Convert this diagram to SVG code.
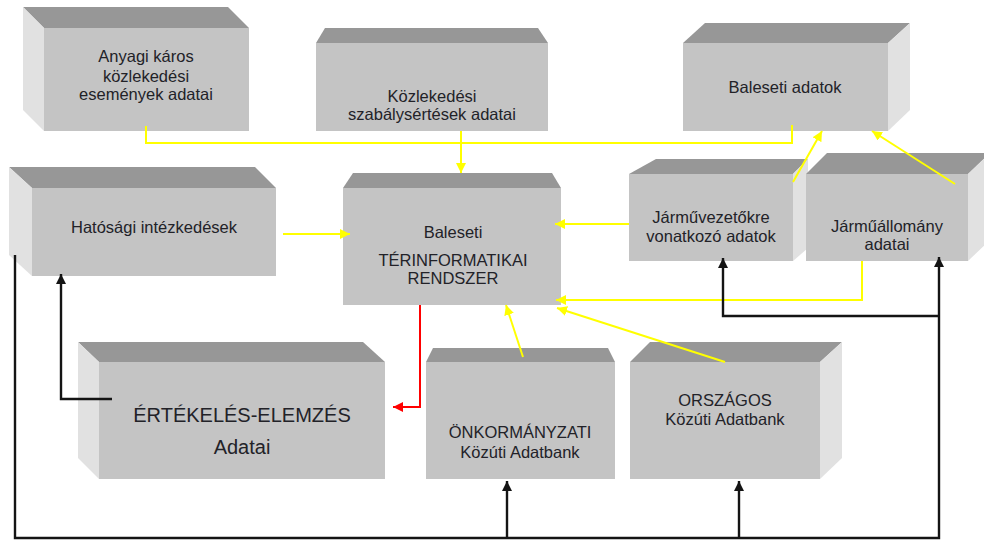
<svg xmlns="http://www.w3.org/2000/svg" width="984" height="540" viewBox="0 0 984 540">
  <style>
    .front { fill: #c4c4c4; }
    .top { fill: #979797; }
    .side { fill: #e1e1e1; }
    text { font-family: "Liberation Sans", Arial, sans-serif; font-size: 16.5px; fill: #222228; text-anchor: middle; }
    .big { font-size: 20px; }
    .y { fill: none; stroke: #ffff00; stroke-width: 2; }
    .k { fill: none; stroke: #141414; stroke-width: 2.4; }
    .r { fill: none; stroke: #ff0000; stroke-width: 2; }
  </style>
  <defs>
    <marker id="ay" viewBox="0 0 10 10" refX="10" refY="5" markerWidth="5" markerHeight="5" orient="auto">
      <path d="M0,0 L10,5 L0,10 Z" fill="#ffff00"/>
    </marker>
    <marker id="ak" viewBox="0 0 10 10" refX="10" refY="5" markerWidth="4.2" markerHeight="4.2" orient="auto">
      <path d="M0,0 L10,5 L0,10 Z" fill="#141414"/>
    </marker>
    <marker id="ar" viewBox="0 0 10 10" refX="10" refY="5" markerWidth="5" markerHeight="5" orient="auto">
      <path d="M0,0 L10,5 L0,10 Z" fill="#ff0000"/>
    </marker>
  </defs>
  <rect width="984" height="540" fill="#ffffff"/>

  <!-- Anyagi káros közlekedési események adatai -->
  <g id="anyagi">
    <polygon class="top" points="44,28 23,7 228,7 249,28"/>
    <polygon class="side" points="23,7 44,28 44,131 23,110"/>
    <rect class="front" x="44" y="28" width="205" height="103"/>
    <text x="146" y="62">Anyagi káros</text>
    <text x="146" y="82">közlekedési</text>
    <text x="146" y="100">események adatai</text>
  </g>

  <!-- Közlekedési szabálysértések adatai -->
  <g id="szabalysertes">
    <polygon class="top" points="316,43 325,28 538,28 548,43"/>
    <rect class="front" x="316" y="43" width="232" height="88"/>
    <text x="432" y="102">Közlekedési</text>
    <text x="432" y="120">szabálysértések adatai</text>
  </g>

  <!-- Baleseti adatok -->
  <g id="baleseti-adatok">
    <polygon class="top" points="683,43 705,23 910,23 888,43"/>
    <polygon class="side" points="888,43 910,23 910,110 888,131"/>
    <rect class="front" x="683" y="43" width="205" height="88"/>
    <text x="785" y="93">Baleseti adatok</text>
  </g>

  <!-- Hatósági intézkedések -->
  <g id="hatosagi">
    <polygon class="top" points="32,188 9,167 255,167 276,188"/>
    <polygon class="side" points="9,167 32,188 32,276 9,255"/>
    <rect class="front" x="32" y="188" width="244" height="88"/>
    <text x="154" y="233">Hatósági intézkedések</text>
  </g>

  <!-- Baleseti térinformatikai rendszer -->
  <g id="terinformatikai">
    <polygon class="top" points="343,188 353,173 552,173 561,188"/>
    <rect class="front" x="343" y="188" width="218" height="117"/>
    <text x="453" y="238">Baleseti</text>
    <text x="453" y="266">TÉRINFORMATIKAI</text>
    <text x="453" y="284">RENDSZER</text>
  </g>

  <!-- Járművezetőkre vonatkozó adatok -->
  <g id="jarmuvezetok">
    <polygon class="top" points="629,174 656,159 808,159 793,174"/>
    <polygon class="side" points="793,174 808,159 808,248 793,261"/>
    <rect class="front" x="629" y="174" width="164" height="87"/>
    <text x="711" y="223">Járművezetőkre</text>
    <text x="711" y="242">vonatkozó adatok</text>
  </g>

  <!-- Járműállomány adatai -->
  <g id="jarmuallomany">
    <polygon class="top" points="806,174 827,153 990,153 968,174"/>
    <polygon class="side" points="968,174 990,153 990,240 968,261"/>
    <rect class="front" x="806" y="174" width="162" height="87"/>
    <text x="887" y="232">Járműállomány</text>
    <text x="887" y="250">adatai</text>
  </g>

  <!-- Értékelés-elemzés adatai -->
  <g id="ertekeles">
    <polygon class="top" points="99,362 78,342 363,342 385,362"/>
    <polygon class="side" points="78,342 99,362 99,479 78,458"/>
    <rect class="front" x="99" y="362" width="286" height="117"/>
    <text class="big" x="242" y="422">ÉRTÉKELÉS-ELEMZÉS</text>
    <text class="big" x="242" y="454">Adatai</text>
  </g>

  <!-- Önkormányzati közúti adatbank -->
  <g id="onkormanyzati">
    <polygon class="top" points="426,362 433,348 608,348 615,362"/>
    <rect class="front" x="426" y="362" width="189" height="117"/>
    <text x="520" y="438">ÖNKORMÁNYZATI</text>
    <text x="520" y="458">Közúti Adatbank</text>
  </g>

  <!-- Országos közúti adatbank -->
  <g id="orszagos">
    <polygon class="top" points="630,362 650,342 842,342 820,362"/>
    <polygon class="side" points="820,362 842,342 842,458 820,479"/>
    <rect class="front" x="630" y="362" width="190" height="117"/>
    <text x="725" y="406">ORSZÁGOS</text>
    <text x="725" y="425">Közúti Adatbank</text>
  </g>

  <!-- connectors -->
  <g id="connectors">
    <path class="y" d="M146,126 V143 H792 V125"/>
    <path class="y" d="M461,131 V173" marker-end="url(#ay)"/>
    <path class="y" d="M283,234 H350" marker-end="url(#ay)"/>
    <path class="y" d="M629,224 H555" marker-end="url(#ay)"/>
    <path class="y" d="M862,261 V300 H556" marker-end="url(#ay)"/>
    <path class="y" d="M725,362 L557,308" marker-end="url(#ay)"/>
    <path class="y" d="M523,357 L506,305" marker-end="url(#ay)"/>
    <path class="y" d="M793,182 L822,131" marker-end="url(#ay)"/>
    <path class="y" d="M955,184 L872,131" marker-end="url(#ay)"/>

    <path class="r" d="M420,305 V407 H393" marker-end="url(#ar)"/>

    <path class="k" d="M15,255 V538 H939 V257" marker-end="url(#ak)"/>
    <path class="k" d="M939,316 H723 V258" marker-end="url(#ak)"/>
    <path class="k" d="M112,399 H61 V274" marker-end="url(#ak)"/>
    <path class="k" d="M507,538 V481" marker-end="url(#ak)"/>
    <path class="k" d="M739,538 V481" marker-end="url(#ak)"/>
  </g>
</svg>
